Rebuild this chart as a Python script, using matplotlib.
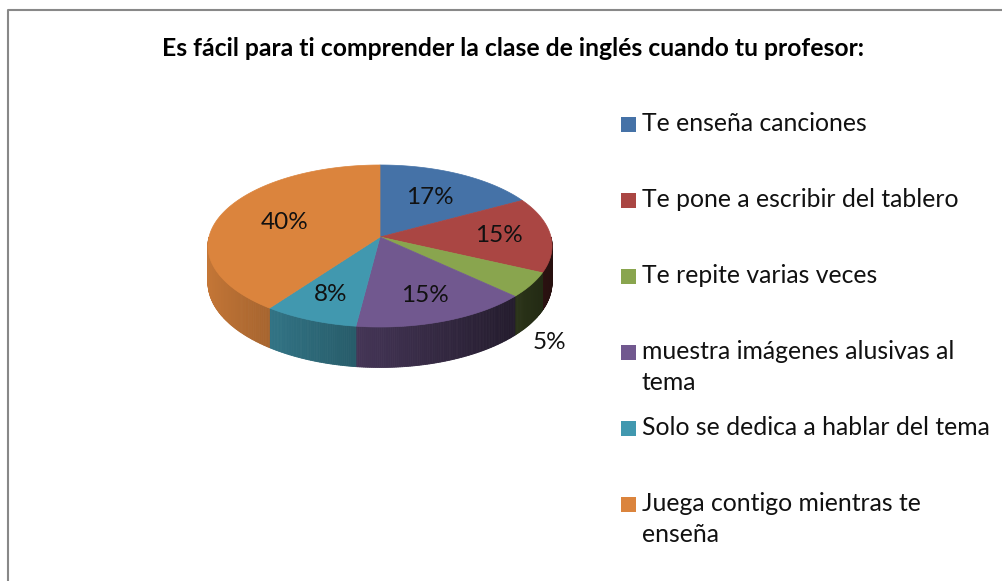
import numpy as np
import matplotlib.pyplot as plt
from matplotlib.patches import Polygon, Rectangle
from matplotlib.lines import Line2D

plt.rcParams['font.family'] = ['Lato', 'DejaVu Sans']

# data
title = "Es fácil para ti comprender la clase de inglés cuando tu profesor:"
categories = ["Te enseña canciones",
              "Te pone a escribir del tablero",
              "Te repite varias veces",
              "muestra imágenes alusivas al\ntema",
              "Solo se dedica a hablar del tema",
              "Juega contigo mientras te\nenseña"]
values = [17, 15, 5, 15, 8, 40]
colors = ["#4572A7", "#AA4643", "#89A54E", "#71588F", "#4198AF", "#DB843D"]

# pie geometry (pixel space, y down)
CX, CY = 380, 237
A, B = 171, 80
K = 0.111
DEPTH = 36


def proj(t, r=1.0, drop=0.0):
    # t: angle clockwise from 12 o'clock (radians)
    u = r * np.sin(t)
    v = -r * np.cos(t)
    w = 1 - K * v
    return CX + A * u / w, CY + (B * v + drop) / w


def shade(c, f):
    c = np.array(plt.matplotlib.colors.to_rgb(c))
    return tuple(np.clip(c * f, 0, 1))


fig = plt.figure(figsize=(10.03, 5.81), dpi=100)
ax = fig.add_axes([0, 0, 1, 1])
ax.set_xlim(0, 1003)
ax.set_ylim(581, 0)
ax.axis('off')

# frame
ax.add_line(Line2D([8, 8, 1003], [581, 10, 10], color="#888888", lw=1.5))

fracs = np.array(values) / np.sum(values)
edges = np.concatenate([[0], np.cumsum(fracs)]) * 2 * np.pi

# side walls (front half only), drawn as thin strips for shading
for i, col in enumerate(colors):
    a0, a1 = max(edges[i], np.pi / 2), min(edges[i + 1], 3 * np.pi / 2)
    if a1 <= a0:
        continue
    ts = np.linspace(a0, a1, max(int((a1 - a0) / 0.01), 2))
    for t0, t1 in zip(ts[:-1], ts[1:]):
        tm = 0.5 * (t0 + t1)
        f = 0.62 - 0.28 * np.sin(tm) - 0.06 * (1 + np.sin(tm))
        x0, y0 = proj(t0)
        x1, y1 = proj(t1)
        x2, y2 = proj(t1, drop=DEPTH)
        x3, y3 = proj(t0, drop=DEPTH)
        ax.add_patch(Polygon([(x0, y0), (x1, y1), (x2, y2), (x3, y3)],
                             closed=True, fc=shade(col, f), ec=shade(col, f), lw=0.6))

# top faces
for i, col in enumerate(colors):
    ts = np.linspace(edges[i], edges[i + 1], 120)
    pts = [(CX, CY)] + [proj(t) for t in ts]
    ax.add_patch(Polygon(pts, closed=True, fc=col, ec=col, lw=0.5))

# labels
label_r = [0.6, 0.7, None, 0.72, 0.72, 0.6]
mids = 0.5 * (edges[:-1] + edges[1:])
for i, v in enumerate(values):
    if label_r[i] is None:
        x, y = proj(mids[i], drop=DEPTH)
        x, y = x + 19, y + 19
    else:
        x, y = proj(mids[i], r=label_r[i])
    ax.text(x, y, f"{v}%", ha='center', va='center', fontsize=17.5, color="#111111")

# title
ax.text(513, 48, title, ha='center', va='center', fontsize=17.8,
        fontweight='bold', color="#000000")

# legend
leg_x = 621
leg_y0 = 124
leg_step = 76
for i, (lab, col) in enumerate(zip(categories, colors)):
    y = leg_y0 + i * leg_step
    ax.add_patch(Rectangle((leg_x, y - 7), 15, 15, fc=col, ec='none'))
    ax.text(leg_x + 21, y - 12, lab, ha='left', va='top', fontsize=17.8,
            linespacing=1.4, color="#111111")

fig.savefig("out.png", dpi=100)
